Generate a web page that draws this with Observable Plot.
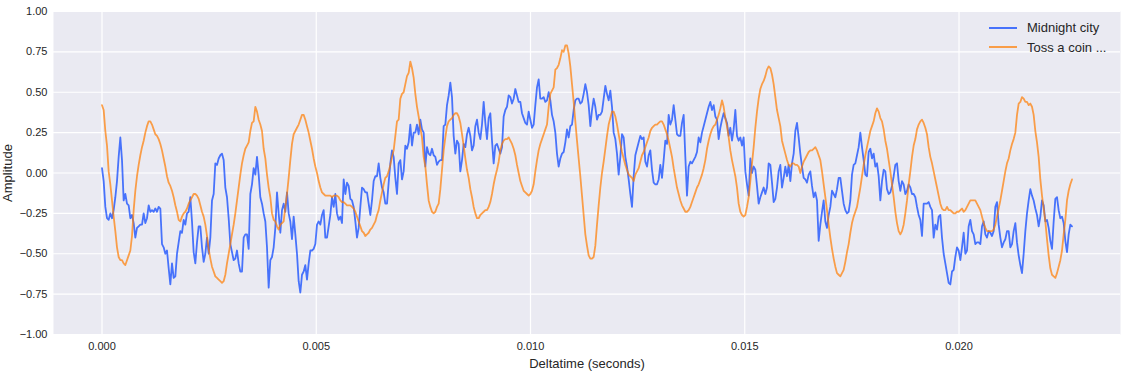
<!DOCTYPE html>
<html>
<head>
<meta charset="utf-8">
<script src="https://cdn.jsdelivr.net/npm/d3@7"></script>
<script src="https://cdn.jsdelivr.net/npm/@observablehq/plot@0.6"></script>
<style>
  html, body { margin: 0; padding: 0; background: #ffffff; }
  #wrap { position: relative; width: 1132px; height: 375px; font-family: "Liberation Sans", Arial, sans-serif; }
  #wrap svg g[aria-label="x-axis label"], #wrap svg g[aria-label="y-axis label"] { font-size: 13px; }
  #legend { position: absolute; left: 989px; top: 18px; font-size: 13px; color: #262626; }
  #legend .item { display: flex; align-items: center; height: 19.4px; white-space: nowrap; }
  #legend .sw { display: block; flex: none; width: 28px; height: 2px; margin-right: 10px; }
</style>
</head>
<body>
<div id="wrap"><div id="legend"></div></div>
<script>
// Series names and colours
const seriesNames = ["Midnight city", "Toss a coin ..."];
const seriesColors = ["#023eff", "#ff7c00"];

// Spacing (seconds) between the read amplitude samples
const SAMPLE_STEP = 0.000038895;

// Axis ticks
const xTicks = [0, 0.005, 0.010, 0.015, 0.020];
const yTicks = [-1, -0.75, -0.5, -0.25, 0, 0.25, 0.5, 0.75, 1];

// "Midnight city" amplitude samples
const blueAmp = [
0.03,-0.05,-0.21,-0.28,-0.29,-0.25,-0.28,-0.23,-0.15,-0.05,
0.10,0.22,0.08,-0.17,-0.13,-0.19,-0.20,-0.28,-0.26,-0.31,
-0.40,-0.34,-0.33,-0.32,-0.32,-0.25,-0.31,-0.28,-0.20,-0.24,
-0.23,-0.24,-0.22,-0.24,-0.21,-0.22,-0.44,-0.46,-0.50,-0.48,
-0.59,-0.69,-0.56,-0.65,-0.64,-0.50,-0.43,-0.36,-0.37,-0.29,
-0.32,-0.25,-0.24,-0.15,-0.30,-0.49,-0.56,-0.43,-0.33,-0.33,
-0.46,-0.55,-0.50,-0.40,-0.50,-0.40,-0.17,-0.13,0.06,0.05,
0.09,0.11,0.12,0.08,-0.09,-0.15,-0.28,-0.44,-0.49,-0.54,
-0.53,-0.48,-0.56,-0.61,-0.61,-0.40,-0.38,-0.38,-0.47,-0.13,
-0.07,0.03,-0.01,0.10,-0.01,-0.15,-0.19,-0.25,-0.30,-0.46,
-0.71,-0.54,
-0.52,-0.46,-0.34,-0.12,-0.25,-0.37,-0.23,-0.19,-0.24,-0.12,
-0.25,-0.30,-0.41,-0.27,-0.38,-0.50,-0.67,-0.74,-0.63,-0.61,
-0.57,-0.66,-0.56,-0.48,-0.48,-0.47,-0.44,-0.32,-0.30,-0.32,
-0.26,-0.23,-0.40,-0.40,-0.33,-0.26,-0.15,-0.21,-0.13,-0.25,
-0.29,-0.27,-0.31,-0.04,-0.13,-0.06,-0.08,-0.16,-0.17,-0.21,
-0.30,-0.40,-0.34,-0.21,-0.09,-0.10,-0.12,-0.12,-0.19,-0.26,
-0.17,-0.05,-0.02,-0.02,0.06,-0.03,-0.09,-0.12,-0.19,-0.19,
-0.06,0.06,0.14,0.10,-0.03,-0.13,0.06,0.08,-0.04,0.01,
0.17,0.15,0.19,0.30,0.17,0.25,0.25,0.30,0.24,0.33,
0.27,0.25,0.04,0.16,0.12,0.11,0.15,0.11,0.10,0.05,
0.07,0.08,
0.08,0.29,0.30,0.42,0.48,0.56,0.47,0.23,0.12,0.20,
0.18,0.01,0.08,0.18,0.16,0.24,0.28,0.23,0.14,0.17,
0.29,0.33,0.25,0.21,0.30,0.44,0.31,0.21,0.34,0.37,
0.20,0.06,0.17,0.18,0.15,0.12,0.16,0.35,0.39,0.41,
0.48,0.47,0.43,0.46,0.52,0.48,0.44,0.44,0.37,0.34,
0.31,0.30,0.38,0.33,0.28,0.30,0.42,0.53,0.58,0.46,
0.46,0.47,0.44,0.45,0.50,0.45,0.36,0.32,0.25,0.12,
0.04,0.09,0.12,0.13,0.19,0.27,0.22,0.29,0.30,0.39,
0.45,0.46,0.46,0.43,0.44,0.49,0.55,0.50,0.42,0.29,
0.39,0.46,0.41,0.33,0.36,0.36,0.38,0.46,0.54,0.49,
0.45,0.51,
0.41,0.25,0.21,0.12,-0.01,0.10,0.24,0.22,0.10,0.04,
-0.04,-0.13,-0.21,-0.02,0.11,0.15,0.19,0.23,0.21,0.22,
0.07,0.04,0.11,0.14,0.02,-0.06,-0.07,-0.07,-0.04,0.05,
-0.03,0.08,0.20,0.18,0.36,0.30,0.33,0.42,0.33,0.24,
0.23,0.23,0.31,0.36,0.10,-0.14,0.04,0.07,0.06,0.08,
0.10,0.13,0.22,0.19,0.25,0.29,0.33,0.37,0.41,0.44,
0.39,0.42,0.35,0.33,0.21,0.28,0.33,0.37,0.34,0.31,
0.23,0.28,0.20,0.27,0.39,0.23,0.20,0.22,0.17,0.22,
0.01,-0.07,-0.14,0.09,0.00,0.04,0.02,-0.08,-0.19,-0.15,
-0.12,-0.09,-0.13,-0.09,0.06,0.05,-0.06,-0.18,-0.16,-0.09,
0.01,0.05,
-0.09,-0.03,0.04,-0.02,0.05,-0.05,0.06,0.12,0.26,0.31,
0.22,0.12,0.04,-0.03,-0.04,-0.06,-0.01,0.01,-0.08,-0.15,
-0.12,-0.17,-0.42,-0.32,-0.24,-0.17,-0.30,-0.34,-0.26,-0.21,
-0.11,-0.13,-0.15,-0.10,-0.03,-0.03,-0.11,-0.19,-0.23,-0.25,
-0.24,-0.17,-0.01,0.05,0.06,0.11,0.16,0.25,0.16,0.08,
-0.01,-0.02,0.13,0.15,0.09,0.12,0.04,0.06,-0.02,-0.17,
-0.05,0.02,0.01,-0.10,-0.13,-0.12,-0.08,-0.02,0.05,0.06,
-0.05,-0.11,-0.05,-0.07,-0.13,-0.11,-0.07,-0.09,-0.13,-0.13,
-0.15,-0.21,-0.26,-0.29,-0.39,-0.19,-0.19,-0.19,-0.18,-0.21,
-0.23,-0.40,-0.32,-0.35,-0.27,-0.26,-0.40,-0.50,-0.56,-0.62,
-0.68,-0.69,
-0.61,-0.60,-0.52,-0.46,-0.48,-0.54,-0.46,-0.37,-0.50,-0.48,
-0.33,-0.29,-0.36,-0.38,-0.44,-0.43,-0.43,-0.44,-0.33,-0.30,
-0.38,-0.40,-0.36,-0.37,-0.39,-0.36,-0.21,-0.18,-0.32,-0.40,
-0.46,-0.43,-0.41,-0.36,-0.36,-0.46,-0.44,-0.36,-0.31,-0.43,
-0.51,-0.57,-0.62,-0.50,-0.36,-0.25,-0.17,-0.10,-0.14,-0.17,
-0.22,-0.26,-0.33,-0.27,-0.17,-0.20,-0.30,-0.29,-0.34,-0.42,
-0.47,-0.30,-0.16,-0.15,-0.23,-0.28,-0.27,-0.31,-0.42,-0.49,
-0.38,-0.32,-0.33
];

// "Toss a coin ..." amplitude samples
const orangeAmp = [
0.42,0.39,0.26,0.17,0.01,-0.07,-0.17,-0.27,-0.36,-0.46,
-0.52,-0.54,-0.54,-0.56,-0.57,-0.54,-0.51,-0.48,-0.39,-0.23,
-0.11,-0.02,0.05,0.11,0.16,0.20,0.25,0.29,0.32,0.32,
0.30,0.27,0.24,0.23,0.21,0.18,0.14,0.09,0.04,-0.02,
-0.06,-0.08,-0.11,-0.15,-0.20,-0.24,-0.29,-0.30,-0.27,-0.25,
-0.24,-0.22,-0.19,-0.17,-0.15,-0.13,-0.13,-0.14,-0.16,-0.20,
-0.24,-0.27,-0.32,-0.39,-0.47,-0.53,-0.58,-0.61,-0.64,-0.65,
-0.66,-0.67,-0.68,-0.67,-0.63,-0.56,-0.50,-0.44,-0.38,-0.32,
-0.25,-0.17,-0.09,-0.01,0.06,0.11,0.15,0.17,0.19,0.26,
0.31,0.32,0.41,0.38,0.33,0.30,0.26,0.15,0.09,-0.01,
-0.09,-0.15,
-0.25,-0.29,-0.30,-0.33,-0.35,-0.32,-0.31,-0.30,-0.21,-0.13,
-0.03,0.08,0.18,0.24,0.26,0.28,0.30,0.33,0.36,0.36,
0.33,0.29,0.25,0.20,0.15,0.09,0.04,0.00,-0.05,-0.09,
-0.12,-0.13,-0.14,-0.14,-0.14,-0.14,-0.15,-0.14,-0.14,-0.14,
-0.15,-0.17,-0.18,-0.18,-0.19,-0.20,-0.20,-0.20,-0.21,-0.22,
-0.24,-0.27,-0.30,-0.33,-0.36,-0.37,-0.39,-0.38,-0.37,-0.35,
-0.34,-0.32,-0.30,-0.26,-0.23,-0.17,-0.12,-0.07,-0.03,-0.02,
0.01,0.05,0.10,0.14,0.23,0.32,0.33,0.46,0.49,0.50,
0.55,0.60,0.62,0.69,0.65,0.59,0.49,0.41,0.35,0.28,
0.22,0.10,0.04,-0.07,-0.17,-0.21,-0.24,-0.25,-0.24,-0.21,
-0.19,-0.10,
0.02,0.14,0.22,0.29,0.32,0.33,0.34,0.36,0.37,0.37,
0.35,0.31,0.24,0.17,0.09,0.02,-0.03,-0.10,-0.15,-0.21,
-0.25,-0.28,-0.28,-0.26,-0.25,-0.24,-0.23,-0.23,-0.21,-0.18,
-0.13,-0.07,-0.02,0.02,0.07,0.14,0.18,0.20,0.21,0.21,
0.22,0.20,0.18,0.15,0.11,0.05,0.00,-0.05,-0.08,-0.11,
-0.12,-0.13,-0.14,-0.13,-0.11,-0.07,0.01,0.08,0.14,0.18,
0.21,0.24,0.27,0.30,0.41,0.49,0.51,0.53,0.64,0.65,
0.67,0.71,0.76,0.75,0.79,0.79,0.74,0.66,0.55,0.44,
0.32,0.20,0.09,-0.02,-0.14,-0.26,-0.38,-0.45,-0.51,-0.53,
-0.53,-0.52,-0.45,-0.32,-0.20,-0.09,0.00,0.07,0.15,0.23,
0.30,0.34,
0.38,0.38,0.35,0.30,0.24,0.18,0.13,0.09,0.05,0.02,
-0.01,-0.02,-0.03,-0.05,-0.01,0.01,0.03,0.07,0.11,0.13,
0.16,0.19,0.22,0.26,0.28,0.29,0.30,0.30,0.31,0.32,
0.32,0.30,0.27,0.24,0.20,0.15,0.10,0.03,-0.03,-0.09,
-0.13,-0.17,-0.20,-0.22,-0.24,-0.24,-0.23,-0.21,-0.18,-0.15,
-0.12,-0.09,-0.07,-0.04,-0.01,0.03,0.08,0.15,0.20,0.24,
0.27,0.29,0.30,0.33,0.36,0.40,0.45,0.41,0.34,0.29,
0.22,0.14,0.08,0.03,-0.02,-0.09,-0.19,-0.24,-0.26,-0.27,
-0.26,-0.21,-0.15,-0.05,0.06,0.16,0.28,0.38,0.46,0.52,
0.55,0.57,0.60,0.64,0.66,0.65,0.61,0.55,0.47,0.39,
0.34,0.29,
0.20,0.16,0.12,0.08,0.05,0.04,0.06,0.06,0.05,0.05,
0.04,0.00,0.04,0.07,0.09,0.11,0.13,0.14,0.14,0.15,
0.16,0.14,0.11,0.08,0.01,-0.07,-0.15,-0.23,-0.32,-0.40,
-0.47,-0.53,-0.58,-0.62,-0.63,-0.64,-0.62,-0.60,-0.55,-0.49,
-0.44,-0.37,-0.31,-0.27,-0.24,-0.21,-0.15,-0.09,-0.02,0.05,
0.11,0.16,0.21,0.26,0.29,0.32,0.37,0.40,0.38,0.34,
0.32,0.27,0.20,0.15,0.08,0.01,-0.07,-0.15,-0.24,-0.31,
-0.36,-0.38,-0.36,-0.32,-0.25,-0.17,-0.07,0.01,0.10,0.17,
0.21,0.27,0.30,0.32,0.33,0.31,0.28,0.24,0.16,0.10,
0.06,0.01,-0.04,-0.09,-0.14,-0.19,-0.22,-0.23,-0.23,-0.21,
-0.23,-0.23,
-0.24,-0.25,-0.25,-0.24,-0.24,-0.23,-0.22,-0.24,-0.23,-0.21,
-0.19,-0.17,-0.17,-0.17,-0.17,-0.19,-0.21,-0.23,-0.27,-0.31,
-0.34,-0.36,-0.36,-0.36,-0.36,-0.35,-0.32,-0.27,-0.22,-0.17,
-0.11,-0.05,0.01,0.06,0.09,0.14,0.18,0.21,0.25,0.36,
0.43,0.44,0.47,0.46,0.44,0.44,0.42,0.43,0.41,0.36,
0.26,0.19,0.10,-0.04,-0.14,-0.22,-0.30,-0.41,-0.51,-0.59,
-0.63,-0.64,-0.65,-0.62,-0.58,-0.54,-0.48,-0.38,-0.29,-0.17,
-0.11,-0.07,-0.04
];

const amps = [blueAmp, orangeAmp];
const series = amps.map((arr, k) => arr.map((v, i) => ({series: seriesNames[k], t: i * SAMPLE_STEP, amp: v})));

// matplotlib-like 5% x margins around the data extent
const tMax = d3.max(series.flat(), d => d.t);
const pad = 0.05 * tMax;

const chart = Plot.plot({
  width: 1132,
  height: 375,
  marginLeft: 53,
  marginRight: 12,
  marginTop: 11,
  marginBottom: 41,
  style: {
    fontFamily: "'Liberation Sans', Arial, sans-serif",
    fontSize: "11px",
    color: "#262626",
    background: "transparent",
    overflow: "visible"
  },
  x: {
    domain: [-pad, tMax + pad],
    ticks: xTicks,
    tickFormat: d3.format(".3f"),
    tickSize: 0,
    tickPadding: 8,
    label: "Deltatime (seconds)",
    labelAnchor: "center",
    labelArrow: "none",
    labelOffset: 33
  },
  y: {
    domain: [-1, 1],
    ticks: yTicks,
    tickFormat: d3.format(".2f"),
    tickSize: 0,
    tickPadding: 6,
    label: "Amplitude",
    labelAnchor: "center",
    labelArrow: "none",
    labelOffset: 51
  },
  marks: [
    Plot.frame({fill: "#EAEAF2", stroke: null}),
    Plot.gridX(xTicks, {stroke: "#ffffff", strokeOpacity: 1, strokeWidth: 1.2}),
    Plot.gridY(yTicks, {stroke: "#ffffff", strokeOpacity: 1, strokeWidth: 1.2}),
    ...series.map((rows, k) => Plot.line(rows, {
      x: "t", y: "amp",
      stroke: seriesColors[k], strokeOpacity: 0.7, strokeWidth: 1.8,
      strokeLinejoin: "round"
    }))
  ]
});

const wrap = document.getElementById("wrap");
wrap.insertBefore(chart, wrap.firstChild);

// Legend (top-right, inside the plot frame)
const legend = d3.select("#legend");
seriesNames.forEach((name, k) => {
  const item = legend.append("div").attr("class", "item");
  item.append("span").attr("class", "sw")
    .style("background", seriesColors[k])
    .style("opacity", 0.7);
  item.append("span").text(name);
});
</script>
</body>
</html>
